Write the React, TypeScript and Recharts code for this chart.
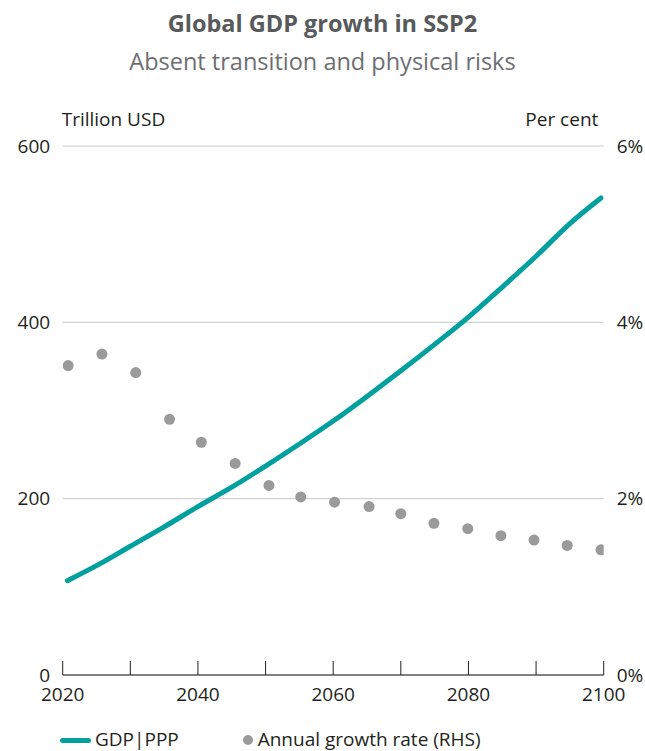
import React from 'react';
import { ComposedChart, Line, Scatter, XAxis, YAxis, CartesianGrid } from 'recharts';

// GDP|PPP, trillion USD (left axis)
const gdpYears = [2020.7, 2025, 2030, 2035, 2040, 2045, 2050, 2055, 2060, 2065, 2070, 2075, 2080, 2085, 2090, 2095, 2099.6];
const gdpValues = [107, 124, 146, 168, 191, 213, 237, 262, 288, 316, 345, 375, 406, 440, 475, 512, 541];

// Annual growth rate, per cent (right axis)
const rateYears = [2020.8, 2025.8, 2030.8, 2035.8, 2040.5, 2045.5, 2050.5, 2055.2, 2060.2, 2065.3, 2070.0, 2074.9, 2079.9, 2084.8, 2089.7, 2094.6, 2099.6];
const rateValues = [3.51, 3.64, 3.43, 2.9, 2.64, 2.4, 2.15, 2.02, 1.96, 1.91, 1.83, 1.72, 1.66, 1.58, 1.53, 1.47, 1.42];

const xTicks = [2020, 2030, 2040, 2050, 2060, 2070, 2080, 2090, 2100];
const leftTicks = [0, 200, 400, 600];
const rightTicks = [0, 2, 4, 6];

const title = 'Global GDP growth in SSP2';
const subtitle = 'Absent transition and physical risks';
const leftUnit = 'Trillion USD';
const rightUnit = 'Per cent';
const gdpName = 'GDP|PPP';
const rateName = 'Annual growth rate (RHS)';

const gdpData = gdpYears.map((year, i) => ({ year, gdp: gdpValues[i] }));
const rateData = rateYears.map((year, i) => ({ year, rate: rateValues[i] }));

const FONT = '"Open Sans", "Noto Sans", sans-serif';
const TEAL = '#00A09E';
const GREY_DOT = '#9A9A9B';
const TEXT = '#231F20';

const Dot = (props: any) => <circle cx={props.cx} cy={props.cy} r={5.5} fill={GREY_DOT} />;

export default function App() {
  return (
    <div style={{ position: 'absolute', left: 0, top: 0, width: 645, height: 751, background: '#fff', fontFamily: FONT }}>
      <div style={{ position: 'absolute', left: 0, width: 645, top: 11.8, fontSize: 23.5, lineHeight: '23.5px', fontWeight: 700, color: '#58595B', textAlign: 'center', whiteSpace: 'nowrap' }}>{title}</div>
      <div style={{ position: 'absolute', left: 0, width: 645, top: 50.1, fontSize: 23.5, lineHeight: '23.5px', color: '#6D6E71', textAlign: 'center', whiteSpace: 'nowrap' }}>{subtitle}</div>
      <div style={{ position: 'absolute', left: 61.7, top: 110.4, fontSize: 19, lineHeight: '19px', color: TEXT, whiteSpace: 'nowrap' }}>{leftUnit}</div>
      <div style={{ position: 'absolute', right: 46.7, top: 110.4, fontSize: 19, lineHeight: '19px', color: TEXT, whiteSpace: 'nowrap' }}>{rightUnit}</div>
      <div style={{ position: 'absolute', left: 0, top: 0 }}>
        <ComposedChart width={645} height={751} margin={{ top: 146, right: 0, bottom: 36, left: 0 }} style={{ fontFamily: FONT }}>
          <CartesianGrid yAxisId="left" horizontal vertical={false} stroke="#C8C8C8" strokeWidth={1} />
          <XAxis
            dataKey="year"
            type="number"
            domain={[2020, 2100]}
            ticks={xTicks}
            interval={0}
            height={40}
            allowDataOverflow
            tickFormatter={(v: number) => (v % 20 === 0 ? String(v) : '')}
            axisLine={{ stroke: TEXT, strokeWidth: 1 }}
            tickLine={{ stroke: TEXT, strokeWidth: 1 }}
            tickSize={-14}
            tickMargin={27}
            tick={{ fill: TEXT, fontSize: 19 }}
          />
          <YAxis
            yAxisId="left"
            orientation="left"
            domain={[0, 600]}
            ticks={leftTicks}
            width={62.7}
            axisLine={false}
            tickLine={false}
            tickSize={0}
            tickMargin={12.5}
            tick={{ fill: TEXT, fontSize: 19 }}
          />
          <YAxis
            yAxisId="right"
            orientation="right"
            domain={[0, 6]}
            ticks={rightTicks}
            width={41.3}
            axisLine={false}
            tickLine={false}
            tickSize={0}
            tickMargin={13}
            tickFormatter={(v: number) => `${v}%`}
            tick={{ fill: TEXT, fontSize: 19 }}
          />
          <Scatter yAxisId="right" data={rateData} dataKey="rate" name={rateName} shape={Dot} isAnimationActive={false} />
          <Line
            yAxisId="left"
            data={gdpData}
            dataKey="gdp"
            name={gdpName}
            type="monotone"
            stroke={TEAL}
            strokeWidth={5}
            strokeLinecap="round"
            dot={false}
            activeDot={false}
            isAnimationActive={false}
          />
        </ComposedChart>
      </div>
      <div style={{ position: 'absolute', left: 60, top: 737.5, width: 31, height: 5, borderRadius: 2.5, background: TEAL }} />
      <div style={{ position: 'absolute', left: 95, top: 730.4, fontSize: 19, lineHeight: '19px', color: TEXT, whiteSpace: 'nowrap' }}>{gdpName}</div>
      <div style={{ position: 'absolute', left: 243, top: 735, width: 10, height: 10, borderRadius: 5, background: GREY_DOT }} />
      <div style={{ position: 'absolute', left: 257.7, top: 730.4, fontSize: 19, lineHeight: '19px', color: TEXT, whiteSpace: 'nowrap' }}>{rateName}</div>
    </div>
  );
}
